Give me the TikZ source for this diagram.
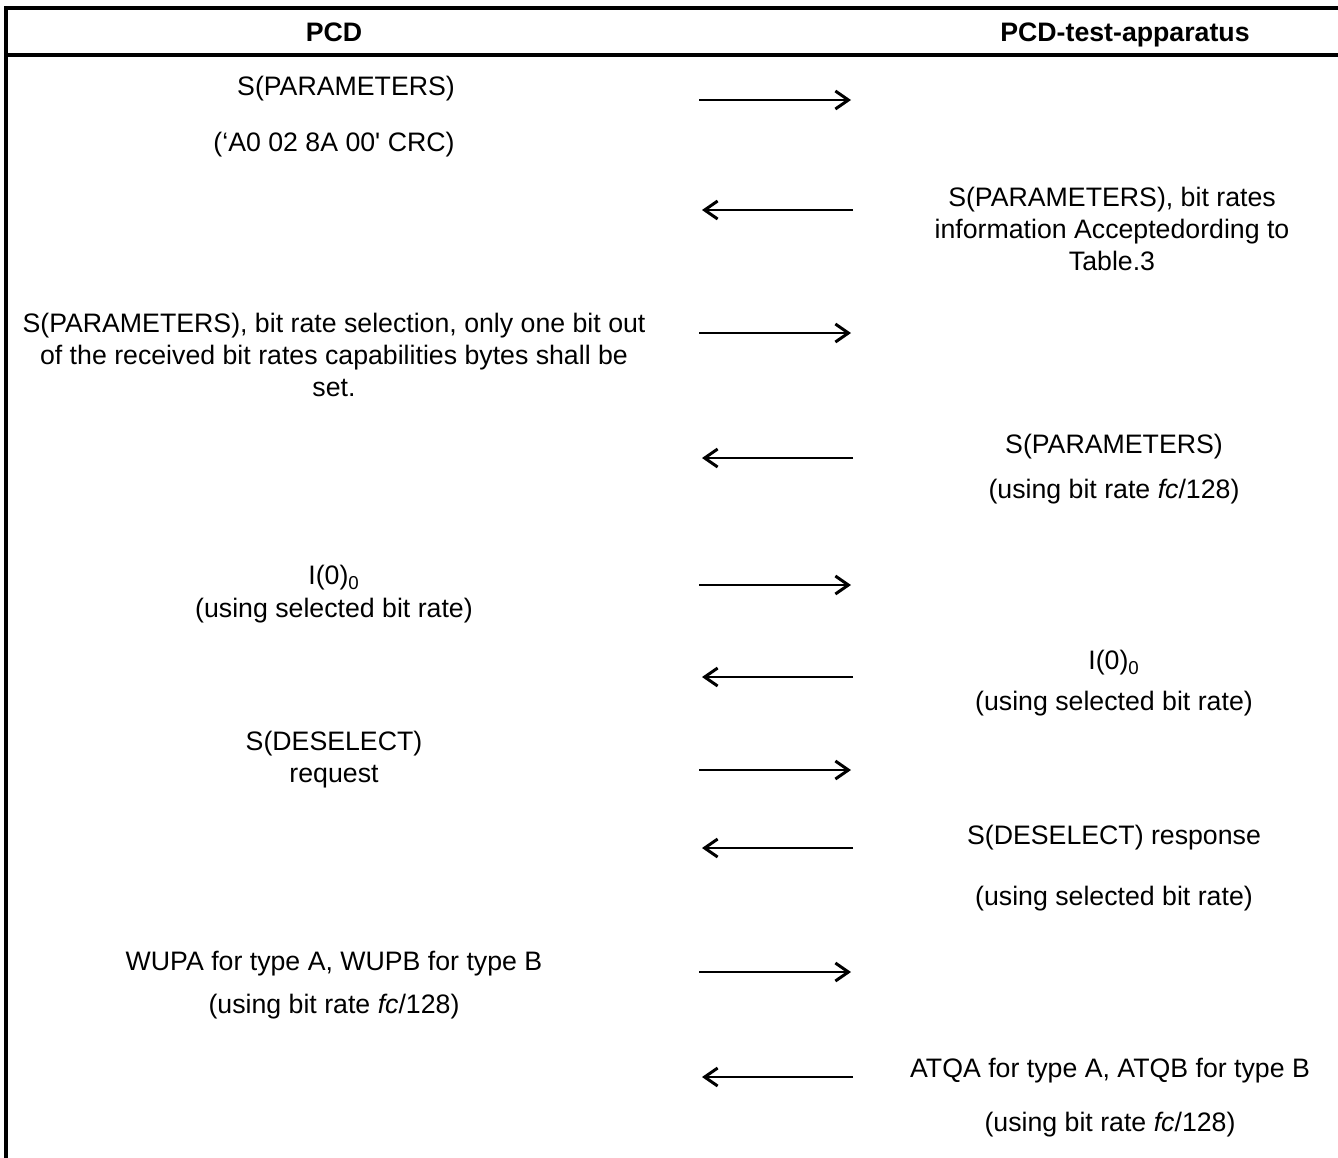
\documentclass[tikz,border=0pt]{standalone}
\usepackage{fontspec}
\setmainfont{Liberation Sans}
\usetikzlibrary{arrows.meta}

\begin{document}
\begin{tikzpicture}[
    x=0.02cm, y=-0.02cm,
    msg/.style={inner sep=0pt, align=center, font=\fontsize{15.2}{18.2}\selectfont},
    head/.style={msg, anchor=base, font=\fontsize{15.2}{18.2}\selectfont\bfseries},
    frame/.style={line width=1.8pt},
    arrow/.style={-{Straight Barb[length=2.6mm, width=3.6mm, line width=1.7pt]}, line width=1.5pt}
]
    \useasboundingbox (0,0) rectangle (1338,1157);

    % table frame
    \coordinate (tl) at (6,8);
    \coordinate (tr) at (1345,8);
    \coordinate (hl) at (6,55);
    \coordinate (hr) at (1345,55);
    \coordinate (bl) at (6,1160);
    \draw[frame] (tr) -- (tl) -- (bl);
    \draw[frame] (hl) -- (hr);

    % headers
    \node[head] (pcd) at (334,41) {PCD};
    \node[head] (tester) at (1125,41) {PCD-test-apparatus};

    % PCD side
    \node[msg] (p1) at (346,89) {S(PARAMETERS)};
    \node[msg] (p1b) at (334,145) {(‘A0 02 8A 00\textquotesingle{} CRC)};
    \node[msg] (p2) at (334,355) {S(PARAMETERS), bit rate selection, only one bit out\\
        of the received bit rates capabilities bytes shall be\\ set.};
    \node[msg] (p3) at (334,578) {I(0)\textsubscript{0}};
    \node[msg] (p3b) at (334,611) {(using selected bit rate)};
    \node[msg] (p4) at (334,760) {S(DESELECT)\\ request};
    \node[msg] (p5) at (334,964) {WUPA for type A, WUPB for type B};
    \node[msg] (p5b) at (334,1007) {(using bit rate \textit{fc}/128)};

    % tester side
    \node[msg] (t1) at (1112,229) {S(PARAMETERS), bit rates\\
        information Acceptedording to\\ Table.3};
    \node[msg] (t2) at (1114,447) {S(PARAMETERS)};
    \node[msg] (t2b) at (1114,492) {(using bit rate \textit{fc}/128)};
    \node[msg] (t3) at (1114,663) {I(0)\textsubscript{0}};
    \node[msg] (t3b) at (1114,704) {(using selected bit rate)};
    \node[msg] (t4) at (1114,838) {S(DESELECT) response};
    \node[msg] (t4b) at (1114,899) {(using selected bit rate)};
    \node[msg] (t5) at (1110,1071) {ATQA for type A, ATQB for type B};
    \node[msg] (t5b) at (1110,1125) {(using bit rate \textit{fc}/128)};

    % arrow ends
    \foreach \n/\y in {1/100, 2/333, 3/585, 4/770, 5/972} {
        \coordinate (ra\n) at (699,\y);
        \coordinate (rb\n) at (851,\y);
        \draw[arrow] (ra\n) -- (rb\n);
    }
    \foreach \n/\y in {1/210, 2/458, 3/677, 4/848, 5/1077} {
        \coordinate (la\n) at (853,\y);
        \coordinate (lb\n) at (702,\y);
        \draw[arrow] (la\n) -- (lb\n);
    }
\end{tikzpicture}
\end{document}
